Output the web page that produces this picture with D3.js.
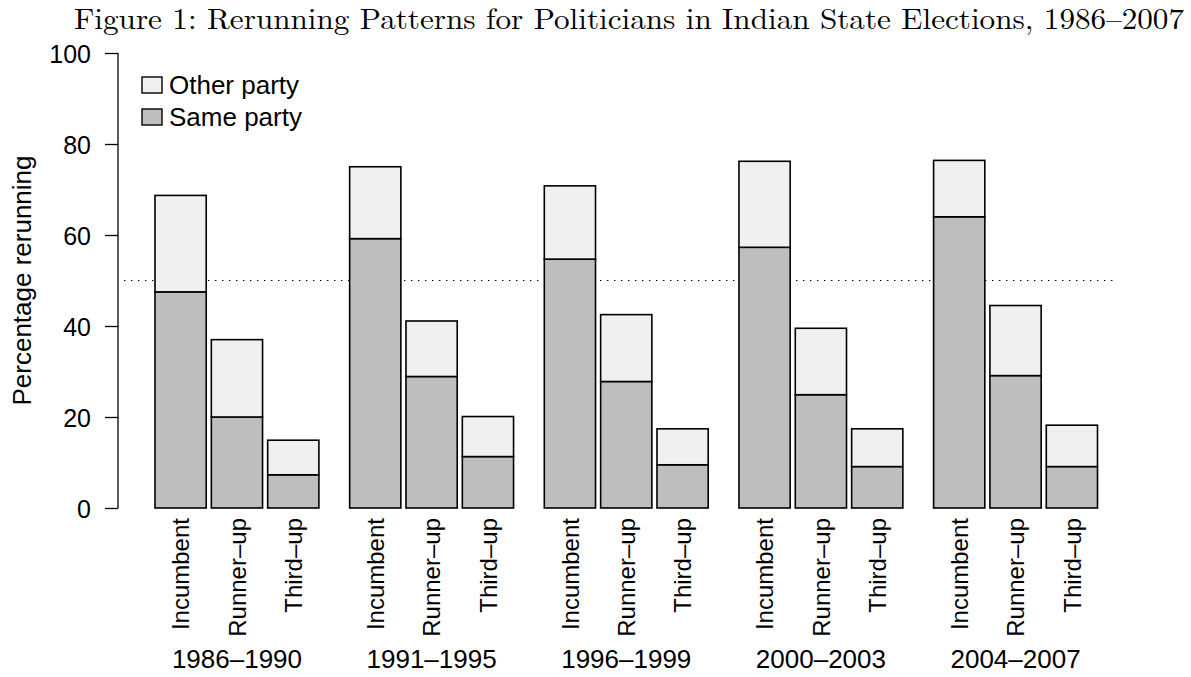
<!DOCTYPE html>
<html>
<head>
<meta charset="utf-8">
<script src="https://cdn.jsdelivr.net/npm/d3@7"></script>
<style>
  html, body { margin: 0; padding: 0; background: #ffffff; }
  svg { display: block; }
  .sans { font-family: "Liberation Sans", Arial, Helvetica, sans-serif; fill: #000; }
  .serif { font-family: "Latin Modern Roman", "CMU Serif", "Liberation Serif", "Times New Roman", serif; fill: #000; }
</style>
</head>
<body>
<svg id="chart" width="1191" height="677"></svg>
<script>
// Election periods (groups) and candidate positions (bars within a group)
const periods = ["1986\u20131990", "1991\u20131995", "1996\u20131999", "2000\u20132003", "2004\u20132007"];
const positions = ["Incumbent", "Runner\u2013up", "Third\u2013up"];

// Percentage rerunning for the same party, per period: [Incumbent, Runner-up, Third-up]
const sameParty = [
  [47.5, 20.0, 7.3],
  [59.2, 28.9, 11.3],
  [54.7, 27.8, 9.5],
  [57.3, 24.9, 9.1],
  [64.0, 29.1, 9.1]
];
// Percentage rerunning for another party, stacked on top
const otherParty = [
  [21.2, 17.0, 7.6],
  [15.8, 12.2, 8.8],
  [16.1, 14.7, 7.9],
  [18.9, 14.6, 8.3],
  [12.4, 15.4, 9.1]
];

const yTicks = [0, 20, 40, 60, 80, 100];
const referenceLine = 50;
const legendLabels = ["Other party", "Same party"];
const titleText = "Figure 1: Rerunning Patterns for Politicians in Indian State Elections, 1986\u20132007";
const yLabel = "Percentage rerunning";

const colors = { same: "#bebebe", other: "#f0f0f0" };

const svg = d3.select("#chart");

// Scales
const y = d3.scaleLinear().domain([0, 100]).range([508, 53]);
const xGroup = d3.scaleBand()
  .domain(periods)
  .range([155, 1097.5])
  .paddingInner(0.158)
  .paddingOuter(0);
const xBar = d3.scaleBand()
  .domain(positions)
  .range([0, xGroup.bandwidth()])
  .paddingInner(0.1 / 1.1)
  .paddingOuter(0);

// Title, spread across the figure width
svg.append("text")
  .attr("class", "serif")
  .attr("x", 74)
  .attr("y", 29)
  .attr("font-size", 29)
  .attr("textLength", 1110)
  .attr("lengthAdjust", "spacingAndGlyphs")
  .text(titleText);

// Reference line at 50%
svg.append("line")
  .attr("x1", 124).attr("x2", 1114)
  .attr("y1", y(referenceLine)).attr("y2", y(referenceLine))
  .attr("stroke", "#000")
  .attr("stroke-width", 1.1)
  .attr("stroke-dasharray", "1.4 5.6");

// Bars
const rows = [];
periods.forEach((p, gi) => {
  positions.forEach((pos, bi) => {
    rows.push({ period: p, position: pos, same: sameParty[gi][bi], other: otherParty[gi][bi] });
  });
});

const barG = svg.append("g");
const bars = barG.selectAll("g.bar").data(rows).join("g")
  .attr("class", "bar")
  .attr("transform", d => `translate(${xGroup(d.period) + xBar(d.position)},0)`);

bars.append("rect")
  .attr("x", 0)
  .attr("width", xBar.bandwidth())
  .attr("y", d => y(d.same))
  .attr("height", d => y(0) - y(d.same))
  .attr("fill", colors.same)
  .attr("stroke", "#000")
  .attr("stroke-width", 1.6);

bars.append("rect")
  .attr("x", 0)
  .attr("width", xBar.bandwidth())
  .attr("y", d => y(d.same + d.other))
  .attr("height", d => y(d.same) - y(d.same + d.other))
  .attr("fill", colors.other)
  .attr("stroke", "#000")
  .attr("stroke-width", 1.6);

// Y axis
const yAxis = d3.axisLeft(y).tickValues(yTicks).tickSize(13).tickPadding(14).tickFormat(d3.format("d"));
const yAxisG = svg.append("g")
  .attr("transform", "translate(118,0)")
  .call(yAxis);
yAxisG.select(".domain").attr("stroke", "#000").attr("stroke-width", 1.3)
  .attr("d", `M-0,${y(100)}V${y(0)}`);
yAxisG.selectAll(".tick line").attr("stroke", "#000").attr("stroke-width", 1.3);
yAxisG.selectAll(".tick text")
  .attr("class", "sans")
  .attr("font-size", 25)
  .attr("dy", "0.36em")
  .attr("fill", "#000");
yAxisG.attr("font-family", null).attr("font-size", null);

// Y axis title
svg.append("text")
  .attr("class", "sans")
  .attr("font-size", 26)
  .attr("text-anchor", "middle")
  .attr("transform", `translate(31,${(y(0) + y(100)) / 2}) rotate(-90)`)
  .text(yLabel);

// Category labels (rotated)
svg.append("g").selectAll("text").data(rows).join("text")
  .attr("class", "sans")
  .attr("font-size", 24)
  .attr("text-anchor", "end")
  .attr("transform", d => {
    const cx = xGroup(d.period) + xBar(d.position) + xBar.bandwidth() / 2 + 24 * 0.36;
    return `translate(${cx},518) rotate(-90)`;
  })
  .text(d => d.position);

// Period labels
svg.append("g").selectAll("text").data(periods).join("text")
  .attr("class", "sans")
  .attr("font-size", 26)
  .attr("text-anchor", "middle")
  .attr("x", d => xGroup(d) + xGroup.bandwidth() / 2)
  .attr("y", 668)
  .text(d => d);

// Legend
const legend = svg.append("g").attr("transform", "translate(142,77)");
const legendFills = [colors.other, colors.same];
legendLabels.forEach((lab, i) => {
  const g = legend.append("g").attr("transform", `translate(0,${i * 32})`);
  g.append("rect")
    .attr("x", 0).attr("y", 0)
    .attr("width", 20).attr("height", 16)
    .attr("fill", legendFills[i])
    .attr("stroke", "#000")
    .attr("stroke-width", 1.4);
  g.append("text")
    .attr("class", "sans")
    .attr("font-size", 26)
    .attr("x", 27)
    .attr("y", 17)
    .text(lab);
});
</script>
</body>
</html>
